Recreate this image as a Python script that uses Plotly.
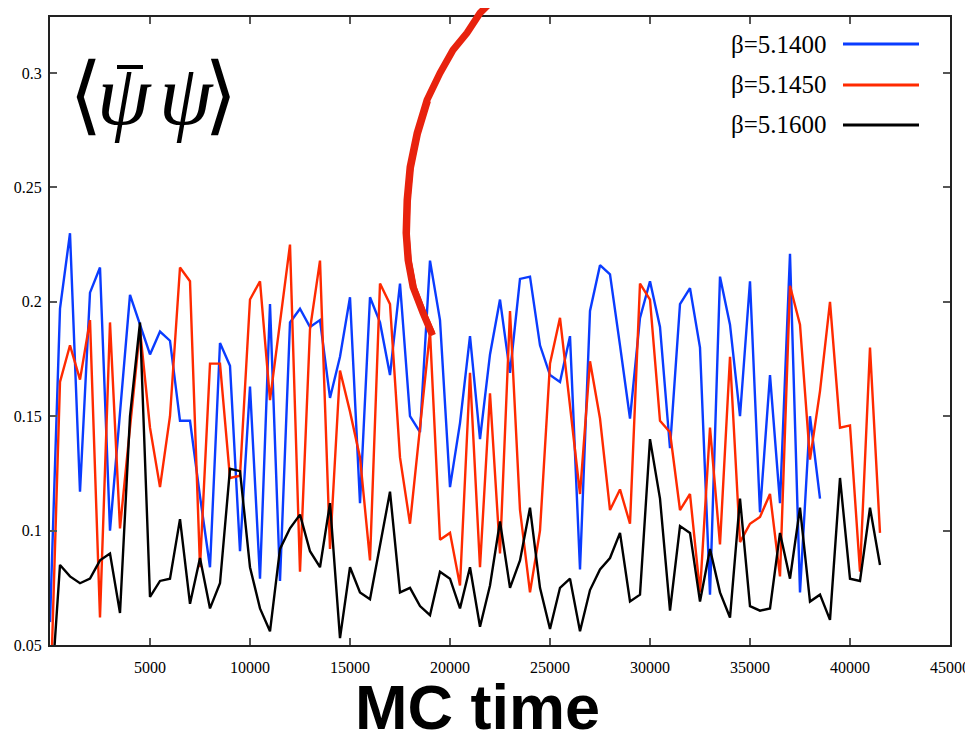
import plotly.graph_objects as go

# ---------------- data ----------------
mc_step = 500  # MC time between successive measurements

beta_labels = ["β=5.1400", "β=5.1450", "β=5.1600"]
line_colors = ["#0a3cff", "#ff2a00", "#000000"]

pbp_b5140 = [0.060, 0.197, 0.230, 0.117, 0.204, 0.215, 0.100, 0.152, 0.203, 0.190,
             0.177, 0.187, 0.183, 0.148, 0.148, 0.115, 0.084, 0.182, 0.172, 0.091,
             0.163, 0.079, 0.199, 0.078, 0.191, 0.197, 0.189, 0.192, 0.158, 0.176,
             0.202, 0.112, 0.202, 0.191, 0.168, 0.208, 0.150, 0.143, 0.218, 0.192,
             0.119, 0.147, 0.185, 0.140, 0.177, 0.201, 0.169, 0.210, 0.211, 0.181,
             0.168, 0.165, 0.185, 0.083, 0.196, 0.216, 0.212, 0.181, 0.149, 0.193,
             0.209, 0.189, 0.136, 0.199, 0.206, 0.180, 0.072, 0.211, 0.190, 0.150,
             0.209, 0.108, 0.168, 0.112, 0.221, 0.073, 0.150, 0.114]

pbp_b5145 = [0.020, 0.165, 0.181, 0.166, 0.192, 0.062, 0.191, 0.101, 0.145, 0.188,
             0.145, 0.119, 0.150, 0.215, 0.209, 0.084, 0.173, 0.173, 0.123, 0.124,
             0.201, 0.209, 0.157, 0.190, 0.225, 0.082, 0.188, 0.218, 0.092, 0.170,
             0.152, 0.132, 0.087, 0.208, 0.199, 0.132, 0.103, 0.145, 0.187, 0.096,
             0.099, 0.076, 0.169, 0.084, 0.160, 0.090, 0.196, 0.109, 0.073, 0.100,
             0.173, 0.193, 0.154, 0.116, 0.174, 0.149, 0.109, 0.118, 0.103, 0.208,
             0.201, 0.148, 0.143, 0.109, 0.116, 0.073, 0.145, 0.094, 0.176, 0.095,
             0.103, 0.106, 0.116, 0.080, 0.207, 0.190, 0.131, 0.161, 0.200, 0.145,
             0.146, 0.082, 0.180, 0.099]

pbp_b5160 = [0.020, 0.085, 0.080, 0.077, 0.079, 0.087, 0.090, 0.064, 0.150, 0.191,
             0.071, 0.078, 0.079, 0.105, 0.068, 0.088, 0.066, 0.077, 0.127, 0.126,
             0.084, 0.066, 0.056, 0.092, 0.101, 0.107, 0.091, 0.084, 0.112, 0.053,
             0.084, 0.073, 0.070, 0.093, 0.117, 0.073, 0.075, 0.067, 0.063, 0.082,
             0.079, 0.066, 0.084, 0.058, 0.076, 0.104, 0.075, 0.087, 0.110, 0.075,
             0.057, 0.075, 0.079, 0.056, 0.074, 0.083, 0.088, 0.099, 0.069, 0.072,
             0.140, 0.114, 0.065, 0.102, 0.099, 0.069, 0.092, 0.073, 0.062, 0.114,
             0.067, 0.065, 0.066, 0.099, 0.079, 0.110, 0.069, 0.072, 0.061, 0.123,
             0.079, 0.078, 0.110, 0.085]

x_tick_vals = [5000, 10000, 15000, 20000, 25000, 30000, 35000, 40000, 45000]
x_tick_text = ["5000", "10000", "15000", "20000", "25000", "30000", "35000", "40000", "45000"]
y_tick_vals = [0.05, 0.10, 0.15, 0.20, 0.25, 0.30]
y_tick_text = ["0.05", "0.1", "0.15", "0.2", "0.25", "0.3"]

# ---------------- figure ----------------
OFF = 8                      # page body margin the figure sits inside
W, H = 973 - OFF, 736 - OFF
ML, MR, MT, MB = 50 - OFF, 23, 17 - OFF, 91
PW, PH = W - ML - MR, H - MT - MB


def px2paper(px, py):
    """page pixel -> paper coordinates (for decorations only)"""
    return (px - OFF - ML) / PW, (H - MB - (py - OFF)) / PH


series = [pbp_b5140, pbp_b5145, pbp_b5160]
fig = go.Figure()
for lab, col, vals in zip(beta_labels, line_colors, series):
    fig.add_trace(go.Scatter(
        x=[i * mc_step for i in range(len(vals))], y=vals, mode="lines", name=lab,
        line=dict(color=col, width=2.4), showlegend=False))

serif = "Liberation Serif, Times New Roman, serif"

axis_common = dict(showline=True, linecolor="#222222", linewidth=2, mirror="ticks",
                   ticks="inside", ticklen=7, tickwidth=1.5, tickcolor="#555555",
                   showgrid=False, zeroline=False, automargin=False,
                   tickfont=dict(family=serif, size=16, color="black"))

fig.update_layout(
    width=W, height=H,
    margin=dict(l=ML, r=MR, t=MT, b=MB, pad=0, autoexpand=False),
    paper_bgcolor="white", plot_bgcolor="white",
    xaxis=dict(range=[0, 45000], tickvals=x_tick_vals, ticktext=x_tick_text,
               ticklabelstandoff=7, **axis_common),
    yaxis=dict(range=[0.05, 0.3245], tickvals=y_tick_vals, ticktext=y_tick_text,
               ticklabelstandoff=3, **axis_common),
)

# manual gnuplot-style key: text on the left, line sample on the right
key_rows_py = [44, 85, 125]
for lab, col, py in zip(beta_labels, line_colors, key_rows_py):
    tx, ty = px2paper(829, py)
    fig.add_annotation(x=tx, y=ty, xref="paper", yref="paper", text=lab, showarrow=False,
                       xanchor="right", yanchor="middle",
                       font=dict(family=serif, size=25, color="black"))
    x0, y0 = px2paper(843, py)
    x1, _ = px2paper(919, py)
    fig.add_shape(type="line", xref="paper", yref="paper", x0=x0, x1=x1, y0=y0, y1=y0,
                  line=dict(color=col, width=3))

# observable label  <psibar psi>, glyph by glyph
glyphs = [("⟨", 86), ("<i>ψ</i>", 124), ("<i>ψ</i>", 186), ("⟩", 221)]
for g, cx in glyphs:
    gx, gy = px2paper(cx, 95)
    fig.add_annotation(x=gx, y=gy, xref="paper", yref="paper", text=g, showarrow=False,
                       xanchor="center", yanchor="middle",
                       font=dict(family=serif, size=86, color="black"))
bx0, by = px2paper(117, 67)
bx1, _ = px2paper(143, 67)
fig.add_shape(type="line", xref="paper", yref="paper", x0=bx0, x1=bx1, y0=by, y1=by,
              line=dict(color="black", width=4))

# x-axis title
tx, ty = px2paper(477, 707)
fig.add_annotation(x=tx, y=ty, xref="paper", yref="paper", text="<b>MC time</b>",
                   showarrow=False, xanchor="center", yanchor="middle",
                   font=dict(family="Liberation Sans, Arial, sans-serif", size=63, color="black"))

# hand-drawn red arc annotation
arc_px = [(432, 334), (423, 313), (413, 287), (408, 260), (406, 233), (407, 200),
          (410, 167), (417, 133), (427, 100), (440, 73), (453, 50), (467, 33),
          (480, 13), (493, 0), (502, -10)]
pts = [px2paper(a, b) for a, b in arc_px]
path = "M " + " L ".join(f"{a:.5f},{b:.5f}" for a, b in pts)
fig.add_shape(type="path", xref="paper", yref="paper", path=path,
              line=dict(color="#e8220d", width=7), layer="above")
pts2 = [px2paper(a + 1.5, b + 1) for a, b in arc_px[:9]]
path2 = "M " + " L ".join(f"{a:.5f},{b:.5f}" for a, b in pts2)
fig.add_shape(type="path", xref="paper", yref="paper", path=path2,
              line=dict(color="#e8220d", width=5), layer="above")

fig.write_html("out.html")
